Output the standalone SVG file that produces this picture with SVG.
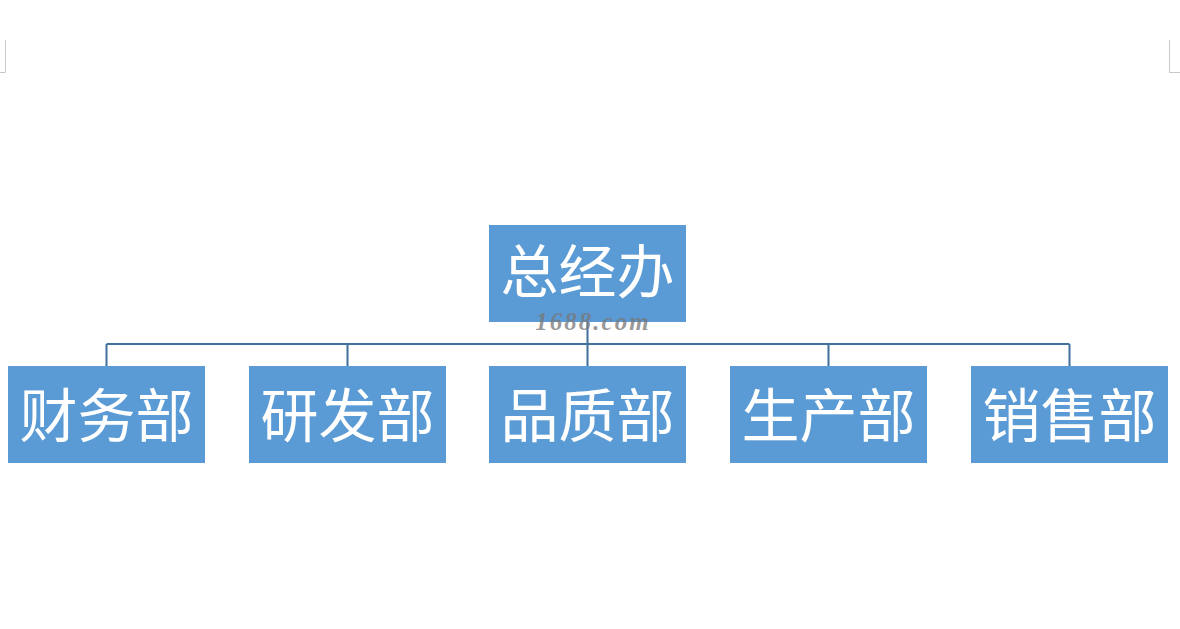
<svg xmlns="http://www.w3.org/2000/svg" width="1180" height="629" viewBox="0 0 1180 629">
<style>
.box{fill:#5B9BD5;}
.lbl{font-family:"Noto Sans CJK SC","Noto Sans CJK JP",sans-serif;font-size:58px;fill:#ffffff;text-anchor:middle;dominant-baseline:central;}
.conn{stroke:#41719C;stroke-width:2;fill:none;}
.mark{stroke:#C8C8C8;stroke-width:1;fill:none;}
.wm{font-family:"Liberation Serif",serif;font-style:italic;font-weight:bold;font-size:25px;text-anchor:middle;letter-spacing:2px;}
</style>
<rect width="1180" height="629" fill="#ffffff"/>
<path class="mark" d="M5.500 40 V72.500 H0 M1169.500 40 V72.500 H1180"/>
<g id="connectors">
<path class="conn" d="M587.500 322 V344 M106.500 344 H1069.500 M106.500 344 V366 M347.500 344 V366 M587.500 344 V366 M828.500 344 V366 M1069.500 344 V366"/>
</g>
<g id="n0"><rect class="box" x="489" y="225" width="197" height="97"/><text class="lbl" x="587.500" y="268">总经办</text></g>
<g id="n1"><rect class="box" x="8" y="366" width="197" height="97"/><text class="lbl" x="106.500" y="412">财务部</text></g>
<g id="n2"><rect class="box" x="249" y="366" width="197" height="97"/><text class="lbl" x="347.500" y="412">研发部</text></g>
<g id="n3"><rect class="box" x="489" y="366" width="197" height="97"/><text class="lbl" x="587.500" y="412">品质部</text></g>
<g id="n4"><rect class="box" x="730" y="366" width="197" height="97"/><text class="lbl" x="828.500" y="412">生产部</text></g>
<g id="n5"><rect class="box" x="971" y="366" width="197" height="97"/><text class="lbl" x="1069.500" y="412">销售部</text></g>
<text class="wm" x="593" y="330" fill="#777777" fill-opacity="0.75">1688.com</text>
</svg>
